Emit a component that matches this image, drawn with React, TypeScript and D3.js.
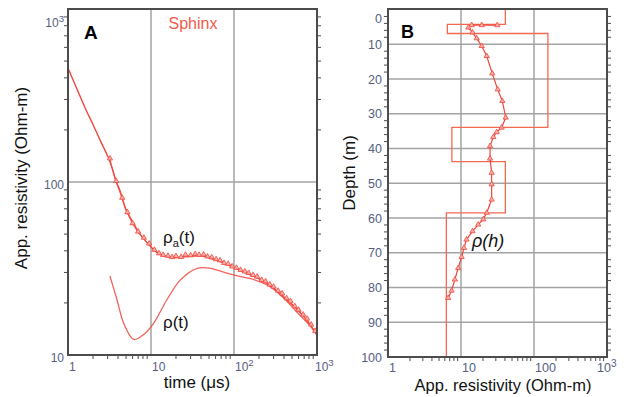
import * as d3 from 'd3';

// Panel A: TEM sounding, apparent resistivity vs time
const obsTime = [3.2, 3.8, 4.5, 5.2, 6.0, 7.0, 8.2, 9.5, 11, 12.5, 14, 16, 18, 20, 23, 26, 30, 34, 38, 43, 48, 54, 61, 68, 76, 85, 95, 107, 120, 135, 150, 170, 190, 215, 240, 270, 300, 340, 380, 430, 480, 540, 600, 680, 760, 850, 950];
const obsRho = [135, 100, 80, 66, 57, 51, 47, 43.5, 40, 38.2, 37.4, 37, 36.3, 36.8, 36.4, 37.5, 37.2, 37.8, 37.4, 37.6, 36.6, 36.2, 35.3, 34.8, 33.6, 33.2, 32.1, 31.5, 30.6, 30, 29.4, 28.6, 28, 26.8, 26.3, 25.2, 24.5, 23.2, 22.4, 21, 20.2, 18.9, 18, 16.9, 16, 14.8, 13.6];

const fitTime = [1, 1.65, 2, 2.5, 3.15, 3.8, 4.2, 5, 6, 7.25, 9.6, 11.5, 14.6, 20, 30, 40, 50, 70, 100, 150, 200, 300, 400, 500, 700, 1000];
const fitRho = [456, 261, 215, 170, 134, 101, 90, 69, 59, 50.5, 43, 39.6, 37.3, 36.6, 37.2, 37.5, 36.5, 34.5, 32, 29.3, 27.6, 24.3, 21.5, 19.6, 16.6, 13];

const invTime = [3.2, 3.9, 4.7, 6.2, 8.1, 10.7, 15.5, 22.5, 36, 52, 82, 120, 150, 200, 280, 400, 580, 800, 1000];
const invRho = [28.6, 20.8, 15.2, 12.3, 13.1, 15.2, 20.8, 27.1, 31.7, 31.7, 29.7, 28.4, 27.8, 26.6, 24.6, 21.3, 17.6, 15, 13.2];

// Panel B: resistivity vs depth
const rhoH = [31.4, 19.2, 14, 12.6, 14.4, 16.4, 19.2, 22.5, 26.8, 31.8, 36.8, 41, 36, 30.8, 27.7, 25, 25, 26.3, 26.3, 26.3, 22.5, 20.2, 17.2, 14.4, 11.9, 11, 10.2, 9.15, 8.25, 7.43, 6.67];
const depthH = [4.5, 4.5, 4.5, 5.2, 6.6, 8.3, 10.5, 13.4, 18.4, 23, 26.3, 31.1, 34, 35.3, 36.7, 39.3, 42.9, 47, 50.3, 54.7, 58.5, 60.4, 61.9, 63.8, 66.2, 68.6, 71.2, 74.4, 77.7, 80.9, 83];

const layerRho = [40.5, 6.5, 155, 7.5, 40.5, 6.3];
const layerTop = [0, 4.3, 6.9, 33.9, 43.8, 58.5];
const layerBottom = [4.3, 6.9, 33.9, 43.8, 58.5, 100];

const logTicks = [1, 10, 100, 1000];
const aXLabels = ['1', '10', '10^2', '10^3'];
const aYTicks = [10, 100, 1000];
const aYLabels = ['10', '100', '10^3'];
const bXLabels = ['1', '10', '100', '10^3'];
const depthTicks = [0, 10, 20, 30, 40, 50, 60, 70, 80, 90, 100];

const RED = '#f0463c';
const MODEL = '#f26a52';
const GRID = '#a3a3a3';
const FRAME = '#4c4c4c';
const TICK = '#55607f';
const FONT = 'Liberation Sans, Arial, sans-serif';

function Label({ s, x, y, anchor = 'start', size = 12 }: { s: string; x: number; y: number; anchor?: string; size?: number }) {
  const [base, sup] = s.split('^');
  return (
    <text x={x} y={y} textAnchor={anchor} fill={TICK} fontSize={size} fontFamily={FONT}>
      {base}
      {sup && <tspan dy={-5} fontSize={size * 0.8}>{sup}</tspan>}
    </text>
  );
}

export default function App() {
  // panel A scales
  const xA = d3.scaleLog().domain([1, 1000]).range([68, 317]);
  const yA = d3.scaleLog().domain([10, 1000]).range([355, 9]);
  // panel B scales
  const xB = d3.scaleLog().domain([1, 1000]).range([388, 607]);
  const yB = d3.scaleLinear().domain([0, 100]).range([9.5, 357]);

  const lineA = d3.line<[number, number]>()
    .x(d => xA(d[0]))
    .y(d => yA(d[1]))
    .curve(d3.curveCatmullRom.alpha(0.5));
  const rawA = d3.line<[number, number]>()
    .x(d => xA(d[0]))
    .y(d => yA(d[1]));
  const lineB = d3.line<[number, number]>()
    .x(d => xB(d[0]))
    .y(d => yB(d[1]));

  const fitPts = fitTime.map((t, i) => [t, fitRho[i]] as [number, number]);
  const invPts = invTime.map((t, i) => [t, invRho[i]] as [number, number]);
  const obsPts = obsTime.map((t, i) => [t, obsRho[i]] as [number, number]);
  const hPts = rhoH.map((r, i) => [r, depthH[i]] as [number, number]);
  const stepPts: [number, number][] = [];
  layerRho.forEach((r, i) => {
    stepPts.push([r, layerTop[i]]);
    stepPts.push([r, layerBottom[i]]);
  });

  const tri = d3.symbol().type(d3.symbolTriangle).size(12)() as string;
  const minorA = xA.ticks().filter(v => !logTicks.includes(v));
  const minorAY = yA.ticks().filter(v => !aYTicks.includes(v));
  const minorB = xB.ticks().filter(v => !logTicks.includes(v));
  const minorDepth = d3.range(0, 101, 2).filter(v => v % 10 !== 0);

  return (
    <div style={{ position: 'fixed', left: 0, top: 0 }}>
      <svg width={624} height={397} style={{ display: 'block', background: '#fff' }}>
        {/* ---------- Panel A ---------- */}
        <g>
          {[10, 100].map(v => (
            <line key={'ga' + v} x1={xA(v)} x2={xA(v)} y1={9} y2={355} stroke={GRID} strokeWidth={1.5} />
          ))}
          <line x1={68} x2={317} y1={yA(100)} y2={yA(100)} stroke={GRID} strokeWidth={1.5} />

          <path d={lineA(invPts) || ''} fill="none" stroke={RED} strokeWidth={1.3} opacity={0.85} />
          <path d={rawA(obsPts) || ''} fill="none" stroke={RED} strokeWidth={1} opacity={0.8} />
          <path d={lineA(fitPts) || ''} fill="none" stroke={RED} strokeWidth={1.4} />
          {obsPts.map((p, i) => (
            <path key={'ta' + i} d={tri} transform={`translate(${xA(p[0])},${yA(p[1]) - 1})`}
              fill="#f8b0a8" stroke={RED} strokeWidth={0.8} />
          ))}

          <rect x={68} y={9} width={249} height={346} fill="none" stroke={FRAME} strokeWidth={2} />
          {minorA.map(v => (
            <line key={'mab' + v} x1={xA(v)} x2={xA(v)} y1={356} y2={359} stroke={FRAME} strokeWidth={1} />
          ))}
          {minorAY.map(v => (
            <g key={'may' + v}>
              <line x1={64} x2={67} y1={yA(v)} y2={yA(v)} stroke={FRAME} strokeWidth={1} />
              <line x1={318} x2={321} y1={yA(v)} y2={yA(v)} stroke={FRAME} strokeWidth={1} />
            </g>
          ))}

          {logTicks.map((v, i) => (
            <Label key={'la' + v} s={aXLabels[i]} x={xA(v) + (i === 3 ? -2 : 1)} y={371} />
          ))}
          {aYTicks.map((v, i) => (
            <Label key={'lay' + v} s={aYLabels[i]} x={64} y={i === 2 ? 27 : yA(v) + 7} anchor="end" />
          ))}

          <text x={84} y={39} fontSize={19} fontWeight="bold" fontFamily={FONT} fill="#000">A</text>
          <text x={193} y={29} textAnchor="middle" fontSize={16} fontFamily={FONT} fill="#f25a4a">Sphinx</text>
          <text x={163} y={243} fontSize={17} fontFamily={FONT} fill="#111">
            ρ<tspan fontSize={11} dy={4}>a</tspan><tspan dy={-4}>(t)</tspan>
          </text>
          <text x={163} y={328} fontSize={17} fontFamily={FONT} fill="#111">ρ(t)</text>

          <text x={197} y={388} textAnchor="middle" fontSize={17} fontFamily={FONT} fill="#111">time (μs)</text>
          <text transform="translate(27,178) rotate(-90)" textAnchor="middle" fontSize={17} fontFamily={FONT} fill="#111">
            App. resistivity (Ohm-m)
          </text>
        </g>

        {/* ---------- Panel B ---------- */}
        <g>
          {[10, 100].map(v => (
            <line key={'gb' + v} x1={xB(v)} x2={xB(v)} y1={9} y2={357} stroke={GRID} strokeWidth={1.5} />
          ))}
          {depthTicks.slice(1, -1).map(v => (
            <line key={'gd' + v} x1={388} x2={607} y1={yB(v)} y2={yB(v)} stroke={GRID} strokeWidth={1.5} />
          ))}

          <path d={lineB(stepPts) || ''} fill="none" stroke={MODEL} strokeWidth={1.3} />
          <path d={lineB(hPts) || ''} fill="none" stroke={RED} strokeWidth={1.2} />
          {hPts.map((p, i) => (
            <path key={'tb' + i} d={tri} transform={`translate(${xB(p[0])},${yB(p[1])})`}
              fill="#f8b0a8" stroke={RED} strokeWidth={0.8} />
          ))}

          <rect x={388} y={9} width={219} height={348} fill="none" stroke={FRAME} strokeWidth={2} />
          {minorB.map(v => (
            <line key={'mbb' + v} x1={xB(v)} x2={xB(v)} y1={358} y2={361} stroke={FRAME} strokeWidth={1} />
          ))}
          {minorDepth.map(v => (
            <g key={'mbd' + v}>
              <line x1={384} x2={387} y1={yB(v)} y2={yB(v)} stroke={FRAME} strokeWidth={1} />
              <line x1={608} x2={611} y1={yB(v)} y2={yB(v)} stroke={FRAME} strokeWidth={1} />
            </g>
          ))}

          {logTicks.map((v, i) => (
            <Label key={'lb' + v} s={bXLabels[i]} x={i === 3 ? 597 : xB(v) + 1} y={372} size={12.5} />
          ))}
          {depthTicks.map(v => (
            <Label key={'ld' + v} s={String(v)} x={382} y={v === 0 ? yB(v) + 13 : yB(v) + 4.5} anchor="end" size={12.5} />
          ))}

          <text x={401} y={38} fontSize={18} fontWeight="bold" fontFamily={FONT} fill="#000">B</text>
          <text x={472} y={247} fontSize={18} fontStyle="italic" fontFamily={FONT} fill="#111">ρ(h)</text>

          <text x={503} y={391} textAnchor="middle" fontSize={16.5} fontFamily={FONT} fill="#111">App. resistivity (Ohm-m)</text>
          <text transform="translate(355,173) rotate(-90)" textAnchor="middle" fontSize={17} fontFamily={FONT} fill="#111">
            Depth (m)
          </text>
        </g>
      </svg>
    </div>
  );
}
